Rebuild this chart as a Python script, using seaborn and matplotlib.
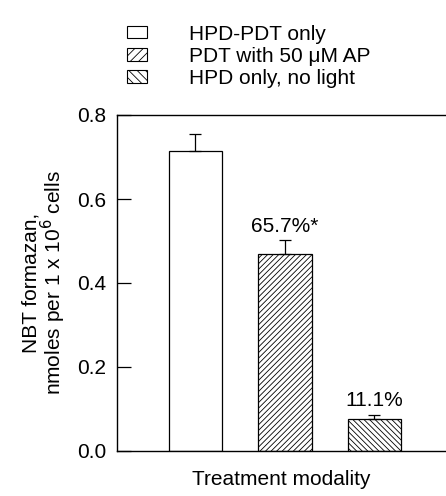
import matplotlib
matplotlib.use("Agg")
import matplotlib.pyplot as plt
import seaborn as sns
import pandas as pd
from matplotlib.patches import Patch

sns.set_style("ticks")
plt.rcParams['font.family'] = ['Liberation Sans', 'DejaVu Sans']
plt.rcParams['hatch.linewidth'] = 0.6
plt.rcParams['text.color'] = 'black'
plt.rcParams['axes.labelcolor'] = 'black'
plt.rcParams['xtick.color'] = 'black'
plt.rcParams['ytick.color'] = 'black'
plt.rcParams['axes.edgecolor'] = 'black'

categories = ["HPD-PDT only", "PDT with 50 \u03bcM AP", "HPD only, no light"]
values = [0.715, 0.469, 0.076]
errors = [0.040, 0.033, 0.010]
annotations = ["", "65.7%*", "11.1%"]
hatches = ["", "//////", "\\\\\\\\\\\\"]
legend_hatches = ["", "////", "\\\\\\\\"]
yticks = [0.0, 0.2, 0.4, 0.6, 0.8]

FS = 15

df = pd.DataFrame({"cat": categories, "val": values})

fig = plt.figure(figsize=(4.46, 4.96), dpi=100)
ax = fig.add_axes([117/446, 45/496, 1 - 117/446, 336/496])

sns.barplot(data=df, x="cat", y="val", ax=ax, color="white", edgecolor="black",
            linewidth=0.9, width=0.6, errorbar=None, order=categories)
for p, h in zip(ax.patches, hatches):
    p.set_hatch(h)
    p.set_facecolor("white")
    p.set_edgecolor("black")

xs = list(range(len(categories)))
ax.errorbar(xs, values, yerr=[[0]*len(errors), errors], fmt="none", ecolor="black",
            elinewidth=0.9, capsize=4, capthick=0.9)

for x, v, e, t in zip(xs, values, errors, annotations):
    if t:
        ax.text(x, v + e + 0.02, t, ha="center", va="baseline", fontsize=FS)

ax.set_xlim(-0.877, 2.8)
ax.set_ylim(0, 0.8)
ax.set_yticks(yticks)
ax.set_yticklabels([f"{t:.1f}" for t in yticks], fontsize=FS)
ax.tick_params(axis="y", direction="in", length=10, width=0.9, pad=8)
ax.set_xticks([])
ax.set_xlabel("Treatment modality", fontsize=FS, labelpad=14)
ax.set_ylabel("NBT formazan,\nnmoles per 1 x 10$^6$ cells", fontsize=FS, labelpad=6,
              linespacing=0.95)
for s in ["left", "top", "bottom"]:
    ax.spines[s].set_visible(True)
    ax.spines[s].set_linewidth(1.0)
ax.spines["right"].set_visible(False)

handles = [Patch(facecolor="white", edgecolor="black", hatch=h, linewidth=0.8) for h in legend_hatches]
fig.legend(handles, categories, loc="upper left", bbox_to_anchor=(112/446, 1 - 10/496),
           frameon=False, fontsize=FS, handlelength=1.0, handleheight=0.55,
           handletextpad=2.0, labelspacing=0.15, borderpad=0.2)

fig.savefig("out.png", dpi=100)
